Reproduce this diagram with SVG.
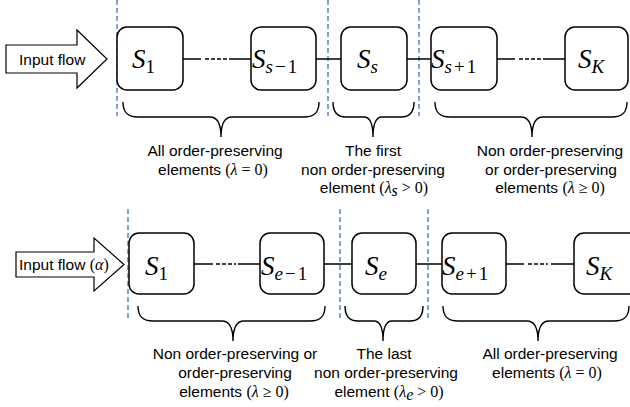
<svg xmlns="http://www.w3.org/2000/svg" width="630" height="407" viewBox="0 0 630 407">
<style>
.box{fill:#fff;stroke:#000;stroke-width:1.5}
.arr{fill:#fff;stroke:#000;stroke-width:1.2}
.ln{fill:none;stroke:#000;stroke-width:1.5}
.dt{fill:none;stroke:#000;stroke-width:1.5;stroke-dasharray:4 2}
.br{fill:none;stroke:#000;stroke-width:1.4}
.sep{stroke:#4472C4;stroke-width:1.3;stroke-dasharray:5 3}
.lab{font-family:"Liberation Sans",Arial,sans-serif;font-size:15.5px;fill:#000}
.m{font-family:"Liberation Serif","Times New Roman",serif;font-size:27px;font-style:italic;fill:#000}
.sub{font-size:19px}
.up{font-style:normal}
.mi{font-family:"Liberation Serif","Times New Roman",serif;font-style:italic;font-size:16px}
.mn{font-family:"Liberation Serif","Times New Roman",serif;font-style:normal;font-size:16px}
</style>
<g id="separators">
<line class="sep" x1="117" y1="0" x2="117" y2="116"/>
<line class="sep" x1="328" y1="0" x2="328" y2="116"/>
<line class="sep" x1="419" y1="0" x2="419" y2="116"/>
<line class="sep" x1="128" y1="209" x2="128" y2="321"/>
<line class="sep" x1="340" y1="209" x2="340" y2="321"/>
<line class="sep" x1="428" y1="209" x2="428" y2="321"/>
</g>
<g id="connectors">
<path class="ln" d="M183,59H201M229,59H251M316,59H341M407,59H431M497,59H515M543,59H565"/>
<path class="dt" d="M205,59H227M519,59H541"/>
<path class="ln" d="M194,264H213M238,264H260M324,264H352M416,264H442M506,264H524M551,264H574"/>
<path class="dt" d="M216,264H236M528,264H548"/>
</g>
<g id="input1">
<polygon class="arr" points="6,45 77,45 77,30 107,59 77,88 77,73 6,73"/>
<text class="lab" x="19" y="64.5">Input flow</text>
</g>
<g id="input2">
<polygon class="arr" points="16,252 94,252 94,238 124,264.5 94,291 94,277 16,277"/>
<text class="lab" x="19" y="269.5">Input flow <tspan class="mn">(</tspan><tspan class="mi" font-size="17px">α</tspan><tspan class="mn">)</tspan></text>
</g>
<g id="top-S1"><rect class="box" x="117" y="27" width="66" height="63" rx="10"/><text class="m" x="132" y="68">S<tspan class="sub up" dy="5">1</tspan></text></g>
<g id="top-Ss-1"><rect class="box" x="251" y="27" width="65" height="63" rx="10"/><text class="m" x="252" y="68">S<tspan class="sub" dy="5">s</tspan><tspan class="sub up" dx="2">−</tspan><tspan class="sub up" dx="2">1</tspan></text></g>
<g id="top-Ss"><rect class="box" x="341" y="27" width="66" height="63" rx="10"/><text class="m" x="357" y="68">S<tspan class="sub" dy="5">s</tspan></text></g>
<g id="top-Ss+1"><rect class="box" x="431" y="27" width="66" height="63" rx="10"/><text class="m" x="431" y="68">S<tspan class="sub" dy="5">s</tspan><tspan class="sub up" dx="2">+</tspan><tspan class="sub up" dx="2">1</tspan></text></g>
<g id="top-SK"><rect class="box" x="565" y="27" width="63" height="63" rx="10"/><text class="m" x="578" y="68">S<tspan class="sub" dy="5">K</tspan></text></g>
<g id="bot-S1"><rect class="box" x="129" y="233" width="65" height="61" rx="10"/><text class="m" x="145" y="275">S<tspan class="sub up" dy="5">1</tspan></text></g>
<g id="bot-Se-1"><rect class="box" x="260" y="233" width="64" height="61" rx="10"/><text class="m" x="261" y="275">S<tspan class="sub" dy="5">e</tspan><tspan class="sub up" dx="2">−</tspan><tspan class="sub up" dx="2">1</tspan></text></g>
<g id="bot-Se"><rect class="box" x="352" y="233" width="64" height="61" rx="10"/><text class="m" x="365" y="275">S<tspan class="sub" dy="5">e</tspan></text></g>
<g id="bot-Se+1"><rect class="box" x="442" y="233" width="64" height="61" rx="10"/><text class="m" x="442" y="275">S<tspan class="sub" dy="5">e</tspan><tspan class="sub up" dx="2">+</tspan><tspan class="sub up" dx="2">1</tspan></text></g>
<g id="bot-SK"><rect class="box" x="574" y="233" width="66" height="61" rx="10"/><text class="m" x="586" y="275">S<tspan class="sub" dy="5">K</tspan></text></g>
<g id="braces">
<path class="br" d="M123,102C123,112 127,117 138,117H210C217,117 221,122 221,137C221,122 225,117 232,117H304C315,117 319,112 319,102"/>
<path class="br" d="M333,102C333,112 337,117 346,117H364C369,117 373,122 373,137C373,122 377,117 382,117H401C410,117 414,112 414,102"/>
<path class="br" d="M435,102C435,112 439,117 450,117H521C528,117 532,122 532,137C532,122 536,117 543,117H612C623,117 627,112 627,102"/>
<path class="br" d="M138,306C138,316 142,321 153,321H222C229,321 233,326 233,341C233,326 237,321 244,321H310C321,321 325,316 325,306"/>
<path class="br" d="M345,306C345,316 349,321 358,321H374C379,321 383,326 383,341C383,326 387,321 392,321H410C419,321 423,316 423,306"/>
<path class="br" d="M443,306C443,316 447,321 458,321H527C534,321 538,326 538,341C538,326 542,321 549,321H614C625,321 629,316 629,306"/>
</g>
<g id="labels">
<text class="lab" text-anchor="middle" x="215" y="155.5">All order-preserving</text>
<text class="lab" text-anchor="middle" x="213" y="174.5">elements <tspan class="mn">(</tspan><tspan class="mi">λ</tspan><tspan class="mn"> = 0)</tspan></text>
<text class="lab" text-anchor="middle" x="373" y="155.5">The first</text>
<text class="lab" text-anchor="middle" x="373" y="174.5">non order-preserving</text>
<text class="lab" text-anchor="middle" x="374" y="193">element <tspan class="mn">(</tspan><tspan class="mi">λ</tspan><tspan class="mi" font-size="11px" dy="3">s</tspan><tspan class="mn" dy="-3"> &gt; 0)</tspan></text>
<text class="lab" text-anchor="middle" x="550" y="155.5">Non order-preserving</text>
<text class="lab" text-anchor="middle" x="551" y="174.5">or order-preserving</text>
<text class="lab" text-anchor="middle" x="550" y="193">elements <tspan class="mn">(</tspan><tspan class="mi">λ</tspan><tspan class="mn"> ≥ 0)</tspan></text>
<text class="lab" text-anchor="middle" x="235" y="358.5">Non order-preserving or</text>
<text class="lab" text-anchor="middle" x="235" y="377.5">order-preserving</text>
<text class="lab" text-anchor="middle" x="234" y="396.5">elements <tspan class="mn">(</tspan><tspan class="mi">λ</tspan><tspan class="mn"> ≥ 0)</tspan></text>
<text class="lab" text-anchor="middle" x="384" y="358.5">The last</text>
<text class="lab" text-anchor="middle" x="386" y="377.5">non order-preserving</text>
<text class="lab" text-anchor="middle" x="389" y="396.5">element <tspan class="mn">(</tspan><tspan class="mi">λ</tspan><tspan class="mi" font-size="11px" dy="3">e</tspan><tspan class="mn" dy="-3"> &gt; 0)</tspan></text>
<text class="lab" text-anchor="middle" x="550" y="358.5">All order-preserving</text>
<text class="lab" text-anchor="middle" x="547" y="377.5">elements <tspan class="mn">(</tspan><tspan class="mi">λ</tspan><tspan class="mn"> = 0)</tspan></text>
</g>
</svg>
